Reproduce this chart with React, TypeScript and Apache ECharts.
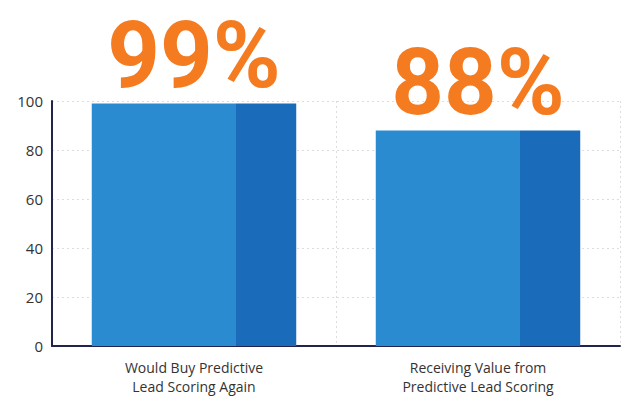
import React, { useEffect, useRef } from "react";
import * as echarts from "echarts";

const categories = ["Would Buy Predictive\nLead Scoring Again", "Receiving Value from\nPredictive Lead Scoring"];
const values = [99, 88];
const yTicks = { min: 0, max: 100, interval: 20 };

export default function App() {
  const ref = useRef<HTMLDivElement>(null);
  useEffect(() => {
    const chart = echarts.init(ref.current!, undefined, { renderer: "svg" });
    const grad = new echarts.graphic.LinearGradient(0, 0, 1, 0, [
      { offset: 0, color: "#2B8BD0" },
      { offset: 0.707, color: "#2B8BD0" },
      { offset: 0.707, color: "#1A6BBA" },
      { offset: 1, color: "#1A6BBA" },
    ]);
    chart.setOption({
      animation: false,
      grid: { left: 52, right: 20, top: 101, bottom: 55 },
      xAxis: {
        type: "category",
        data: categories,
        axisLine: { lineStyle: { color: "#23234F", width: 2 } },
        axisTick: { show: false },
        axisLabel: {
          color: "#333",
          fontSize: 14,
          fontFamily: "Open Sans",
          lineHeight: 19,
          margin: 12,
        },
        splitLine: { show: true, lineStyle: { color: "#ddd", type: [2, 3] } },
      },
      yAxis: {
        type: "value",
        min: yTicks.min,
        max: yTicks.max,
        interval: yTicks.interval,
        axisLine: { show: true, lineStyle: { color: "#23234F", width: 2 } },
        axisTick: { show: false },
        axisLabel: { color: "#333", fontSize: 15, fontFamily: "Open Sans", margin: 9 },
        splitLine: { lineStyle: { color: "#ddd", type: [2, 3] } },
      },
      series: [
        {
          type: "bar",
          data: values,
          barWidth: "72%",
          itemStyle: { color: grad },
          label: {
            show: true,
            position: "top",
            distance: 8,
            formatter: "{c}%",
            color: "#F47B20",
            fontSize: 92,
            fontWeight: "bold",
            fontFamily: "Roboto",
            lineHeight: 80,
          },
        },
      ],
    });
    return () => chart.dispose();
  }, []);
  return <div ref={ref} style={{ width: 640, height: 401, position: "absolute", left: 0, top: 0 }} />;
}
